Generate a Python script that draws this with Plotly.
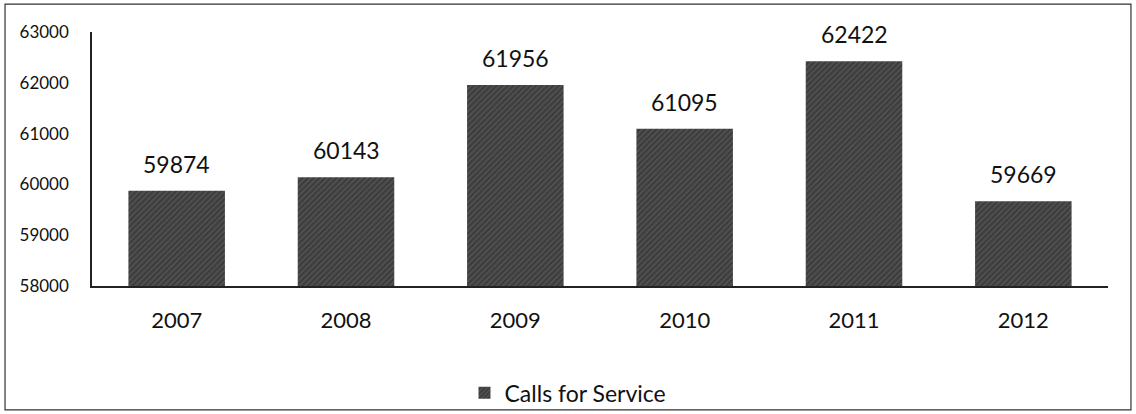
import plotly.graph_objects as go

years = ["2007", "2008", "2009", "2010", "2011", "2012"]
calls = [59874, 60143, 61956, 61095, 62422, 59669]
y_ticks = [58000, 59000, 60000, 61000, 62000, 63000]

FONT = "Lato, 'Open Sans', sans-serif"

fig = go.Figure()
fig.add_trace(go.Bar(
    x=years,
    y=calls,
    name="Calls for Service",
    marker=dict(
        color="#3c3c3c",
        line=dict(width=0),
        pattern=dict(shape="/", fgcolor="#262626", bgcolor="#505050", size=4, solidity=0.5),
    ),
))

# value labels above each bar (category index positions)
for i, v in enumerate(calls):
    fig.add_annotation(
        x=i, y=v, text=str(v), showarrow=False,
        yanchor="bottom", yshift=11,
        font=dict(family=FONT, size=23, color="#111111"),
    )

fig.update_layout(
    width=1136, height=414,
    margin=dict(l=92, r=28, t=32, b=128, autoexpand=False),
    paper_bgcolor="white",
    plot_bgcolor="white",
    bargap=0.43,
    showlegend=True,
    legend=dict(
        orientation="h", x=0.4685, xanchor="center",
        yref="container", y=0.051, yanchor="middle",
        font=dict(family=FONT, size=23, color="#111111"),
        bgcolor="rgba(0,0,0,0)",
        itemsizing="constant",
        itemwidth=30,
    ),
    font=dict(family=FONT, color="#111111"),
)

fig.update_yaxes(
    range=[58000, 63000],
    tickvals=y_ticks,
    ticktext=[str(t) for t in y_ticks],
    showgrid=False,
    zeroline=False,
    showline=True, linecolor="#222222", linewidth=1.5,
    ticks="",
    ticklabelstandoff=18,
    tickfont=dict(family=FONT, size=17, color="#111111"),
)
fig.update_xaxes(
    type="category",
    categoryorder="array",
    categoryarray=years,
    range=[-0.5, len(years) - 0.5],
    showgrid=False,
    showline=True, linecolor="#222222", linewidth=1.5,
    ticks="",
    ticklabelstandoff=14,
    tickfont=dict(family=FONT, size=22, color="#111111"),
)

# thin frame around the whole chart
fig.add_shape(
    type="rect", xref="paper", yref="paper",
    x0=-0.0856, x1=1.0226, y0=-0.488, y1=1.110,
    line=dict(color="#333333", width=1.2),
    fillcolor="rgba(0,0,0,0)",
)

fig.write_html("out.html")
